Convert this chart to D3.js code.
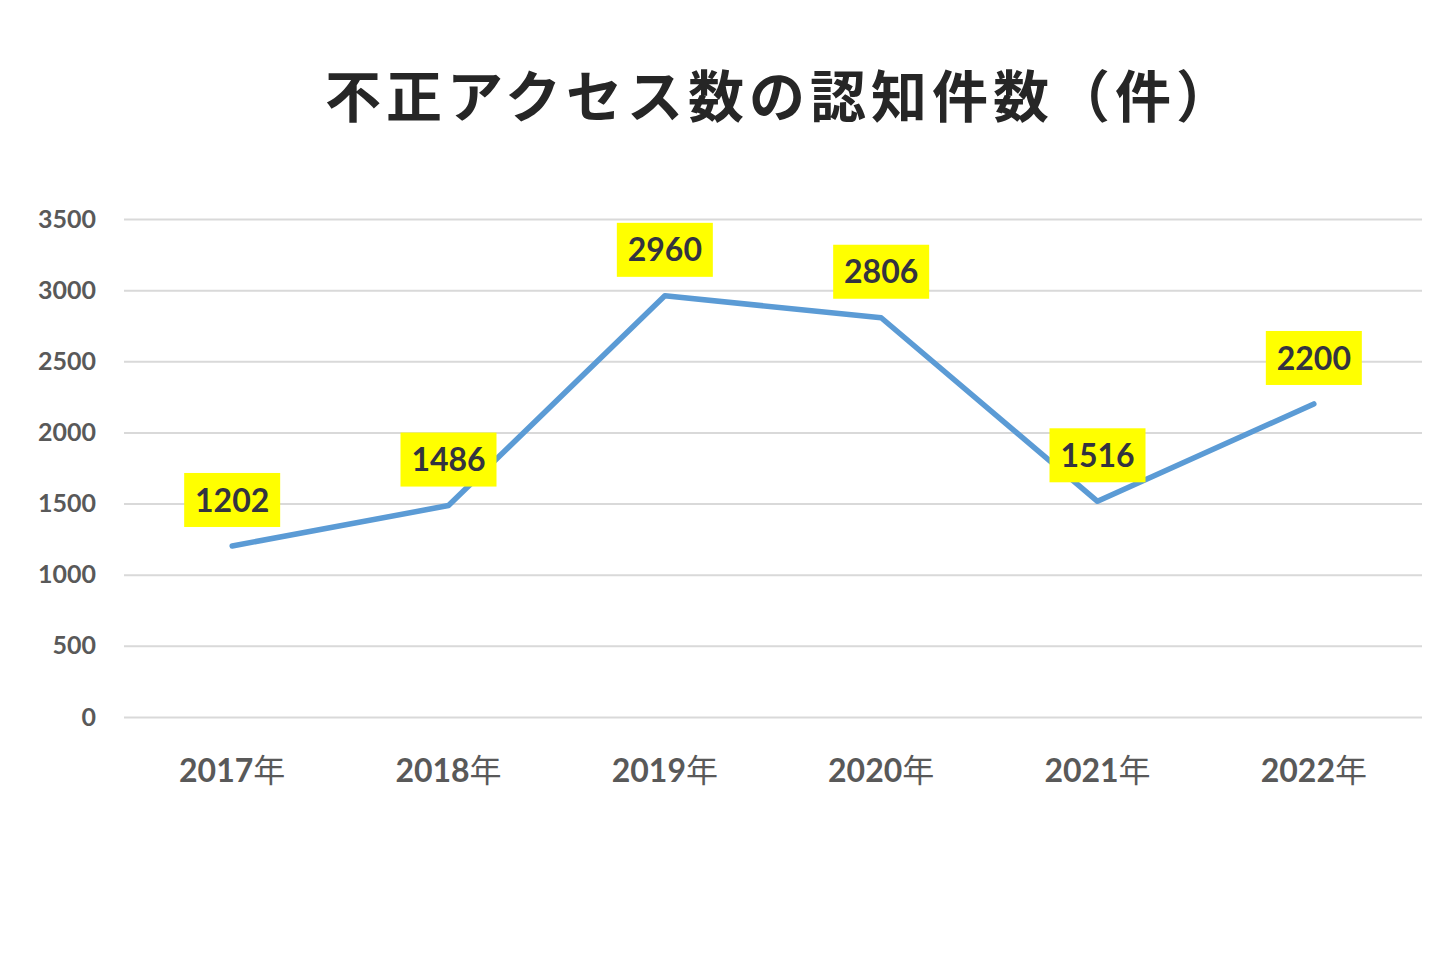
<!DOCTYPE html>
<html>
<head>
<meta charset="utf-8">
<script src="https://cdn.jsdelivr.net/npm/d3@7"></script>
<style>
  body { margin: 0; background: #fff; }
  svg { display: block; }
</style>
</head>
<body>
<div id="chart"></div>
<script>
// ========= Data =========
const years = ['2017年', '2018年', '2019年', '2020年', '2021年', '2022年'];
const counts = [1202, 1486, 2960, 2806, 1516, 2200];
const yTicks = [0, 500, 1000, 1500, 2000, 2500, 3000, 3500];
const title = '不正アクセス数の認知件数（件）';

// ========= Setup =========
const width = 1456, height = 968;
const margin = {top: 219, right: 34, bottom: 251, left: 124};
const numFont = 'Lato, "Open Sans", "Noto Sans", sans-serif';
const cjkFont = '"Noto Sans CJK JP", "Noto Sans", sans-serif';

const svg = d3.select('#chart')
  .append('svg')
  .attr('width', width)
  .attr('height', height);

const x = d3.scaleBand()
  .domain(years)
  .range([margin.left, width - margin.right]);

const y = d3.scaleLinear()
  .domain([0, 3500])
  .range([height - margin.bottom, margin.top]);

// Title
svg.append('text')
  .attr('x', 781)
  .attr('y', 117)
  .attr('text-anchor', 'middle')
  .style('font-family', cjkFont)
  .style('font-weight', 700)
  .style('font-size', '56px')
  .style('letter-spacing', '5px')
  .style('fill', '#262626')
  .text(title);

// ========= Grid + y axis =========
const yAxis = svg.append('g')
  .attr('transform', `translate(${margin.left},0)`)
  .call(d3.axisLeft(y)
    .tickValues(yTicks)
    .tickSize(-(width - margin.left - margin.right))
    .tickPadding(28)
    .tickFormat(d3.format('d')));

yAxis.select('.domain').remove();
yAxis.selectAll('.tick line')
  .attr('stroke', '#d9d9d9')
  .attr('stroke-width', 2);
yAxis.selectAll('.tick text')
  .style('font-family', numFont)
  .style('font-weight', 700)
  .style('font-size', '25px')
  .style('fill', '#595959');

// ========= x axis =========
const xAxis = svg.append('g')
  .attr('transform', `translate(0,${height - margin.bottom})`)
  .call(d3.axisBottom(x).tickSize(0).tickPadding(42));

xAxis.select('.domain').remove();
xAxis.selectAll('.tick text').each(function(d) {
  const t = d3.select(this).text('');
  t.append('tspan')
    .style('font-family', numFont)
    .style('font-weight', 700)
    .text(d.replace('年', ''));
  t.append('tspan')
    .style('font-family', cjkFont)
    .style('font-weight', 400)
    .text('年');
});
xAxis.selectAll('.tick text')
  .style('font-size', '32px')
  .style('fill', '#595959');

// ========= Line =========
const cx = (d, i) => x(years[i]) + x.bandwidth() / 2;

svg.append('path')
  .datum(counts)
  .attr('fill', 'none')
  .attr('stroke', '#5b9bd5')
  .attr('stroke-width', 5.5)
  .attr('stroke-linejoin', 'round')
  .attr('stroke-linecap', 'round')
  .attr('d', d3.line().x(cx).y(d => y(d)));

// ========= Data labels =========
const labels = svg.append('g')
  .selectAll('g')
  .data(counts)
  .enter()
  .append('g')
  .attr('transform', (d, i) => `translate(${cx(d, i)},${y(d) - 46})`);

labels.append('rect')
  .attr('x', -48)
  .attr('y', -27)
  .attr('width', 96)
  .attr('height', 54)
  .attr('fill', '#ffff00');

labels.append('text')
  .attr('text-anchor', 'middle')
  .attr('dy', '0.36em')
  .style('font-family', numFont)
  .style('font-weight', 700)
  .style('font-size', '32px')
  .style('fill', '#333340')
  .text(d => d);
</script>
</body>
</html>
